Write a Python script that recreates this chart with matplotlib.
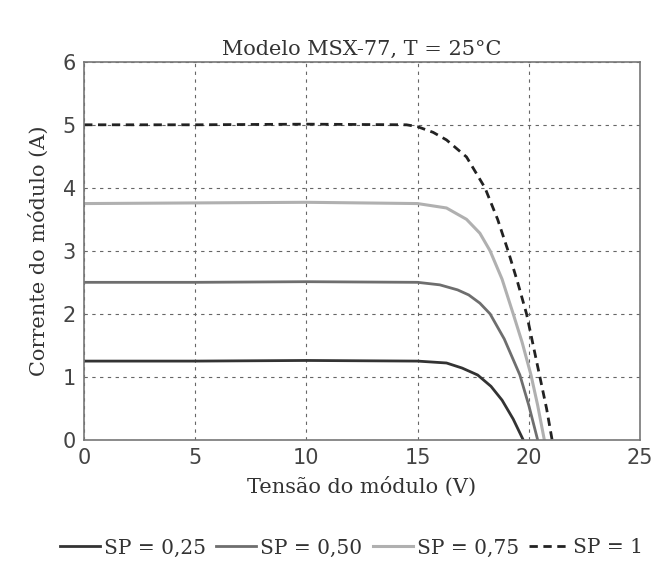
import matplotlib
matplotlib.use('Agg')
import matplotlib.pyplot as plt

# curves (voltage V, current A)
v_025 = [0, 5, 10, 15, 16.3, 17.0, 17.7, 18.3, 18.8, 19.3, 19.75]
i_025 = [1.25, 1.25, 1.26, 1.25, 1.22, 1.14, 1.03, 0.85, 0.63, 0.33, 0.0]

v_050 = [0, 5, 10, 15, 16.0, 16.8, 17.3, 17.8, 18.26, 18.9, 19.6, 20.0, 20.4]
i_050 = [2.5, 2.5, 2.51, 2.5, 2.46, 2.38, 2.3, 2.17, 2.0, 1.6, 1.03, 0.55, 0.0]

v_075 = [0, 5, 10, 15, 16.3, 17.2, 17.8, 18.26, 18.8, 19.3, 19.7, 20.1, 20.4, 20.7]
i_075 = [3.75, 3.76, 3.77, 3.75, 3.68, 3.5, 3.28, 3.0, 2.55, 2.0, 1.55, 1.03, 0.55, 0.0]

v_100 = [0, 5, 10, 14.5, 15.0, 15.7, 16.3, 17.2, 18.03, 18.6, 19.07, 19.5, 19.9, 20.2, 20.5, 20.8, 21.05]
i_100 = [5.0, 5.0, 5.01, 5.0, 4.97, 4.88, 4.76, 4.49, 4.0, 3.5, 3.0, 2.5, 2.0, 1.5, 1.0, 0.5, 0.0]

x_ticks = [0, 5, 10, 15, 20, 25]
y_ticks = [0, 1, 2, 3, 4, 5, 6]


def main():
    plt.rcParams['font.family'] = 'DejaVu Serif'
    fig = plt.figure(figsize=(6.57, 5.72), dpi=100)
    ax = fig.add_axes([0.128, 0.231, 0.846, 0.661])

    ax.plot(v_025, i_025, color='#333333', lw=2, label='SP = 0,25')
    ax.plot(v_050, i_050, color='#6e6e6e', lw=2, label='SP = 0,50')
    ax.plot(v_075, i_075, color='#b0b0b0', lw=2.2, label='SP = 0,75')
    ax.plot(v_100, i_100, color='#222222', lw=2, ls=(0, (3, 2)), label='SP = 1')

    ax.set_xlim(0, 25)
    ax.set_ylim(0, 6)
    ax.set_xticks(x_ticks)
    ax.set_yticks(y_ticks)
    ax.tick_params(length=0, labelsize=15, pad=6)
    for lab in ax.get_xticklabels() + ax.get_yticklabels():
        lab.set_fontfamily('DejaVu Sans')
        lab.set_color('#444444')
    ax.set_axisbelow(True)
    ax.grid(True, ls=(0, (3, 4)), color='#666666', lw=0.8)
    for s in ax.spines.values():
        s.set_color('#777777')
        s.set_linewidth(1.2)

    ax.set_title('Modelo MSX-77, T = 25°C', fontsize=15, color='#333333', pad=5)
    ax.set_xlabel('Tensão do módulo (V)', fontsize=15, color='#333333', labelpad=6)
    ax.set_ylabel('Corrente do módulo (A)', fontsize=15, color='#333333', labelpad=10)

    fig.legend(loc='center', bbox_to_anchor=(0.535, 0.042), ncol=4, frameon=False,
               fontsize=14.5, handlelength=2.0, handletextpad=0.2, columnspacing=0.5,
               labelcolor='#333333')

    fig.savefig('out.png', dpi=100, facecolor='white')


if __name__ == '__main__':
    main()
